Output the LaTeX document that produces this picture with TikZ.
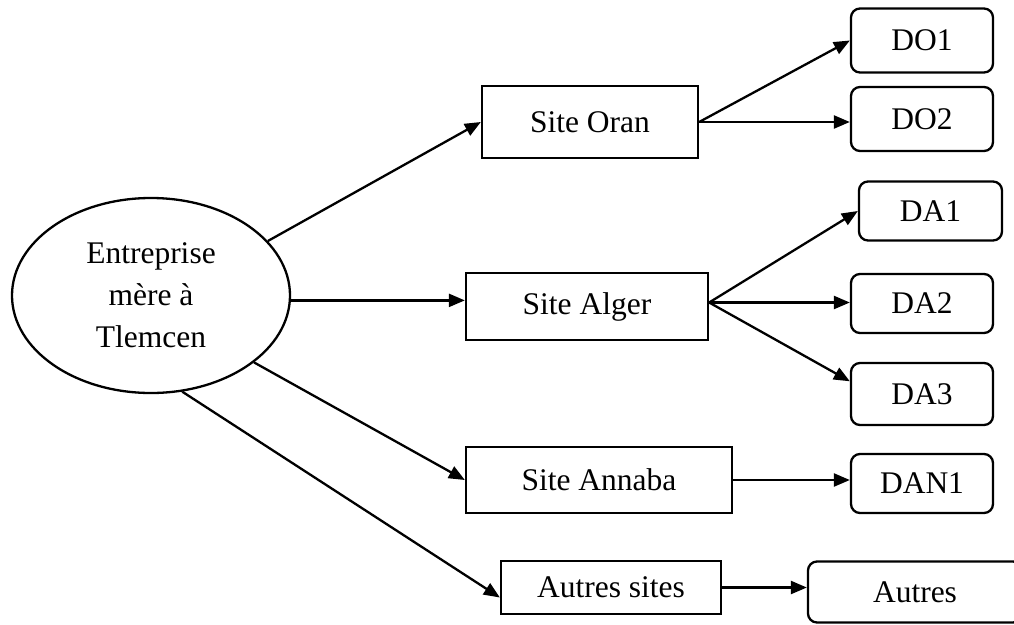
\documentclass[tikz,border=0pt]{standalone}
\usepackage{fontspec}
\setmainfont{Liberation Serif}
\usetikzlibrary{shapes.geometric,arrows.meta}
\begin{document}
\begin{tikzpicture}[x=1pt,y=-1pt,
  every node/.style={font=\fontsize{31.5}{42}\selectfont},
  box/.style={draw,line width=2.3pt,inner sep=0pt,rectangle},
  rbox/.style={box,rounded corners=9pt},
  conn/.style={line width=2.3pt,-{Triangle[length=16pt,width=13pt]}}]
\useasboundingbox (0,0) rectangle (1014,624);
\clip (0,0) rectangle (1014,624);
% root
\node[ellipse,draw,line width=2.3pt,inner sep=0pt,minimum width=278pt,minimum height=195pt,align=center] (ell) at (151,295.5) {Entreprise\\mère à\\Tlemcen};
% sites
\node[box,minimum width=216pt,minimum height=72pt] (oran) at (590,122) {Site Oran};
\node[box,minimum width=242pt,minimum height=67pt] (alger) at (587,306.5) {Site Alger};
\node[box,minimum width=266pt,minimum height=66pt] (annaba) at (599,480) {Site Annaba};
\node[box,minimum width=220pt,minimum height=53pt] (as) at (611,587.5) {Autres sites};
% leaves
\node[rbox,minimum width=142pt,minimum height=64pt] (do1) at (922,40.5) {DO1};
\node[rbox,minimum width=142pt,minimum height=64pt] (do2) at (922,119) {DO2};
\node[rbox,minimum width=143pt,minimum height=59pt] (da1) at (930.5,211) {DA1};
\node[rbox,minimum width=142pt,minimum height=59pt] (da2) at (922,303.5) {DA2};
\node[rbox,minimum width=142pt,minimum height=62pt] (da3) at (922,394) {DA3};
\node[rbox,minimum width=142pt,minimum height=59pt] (dan1) at (922,483.5) {DAN1};
\node[rbox,minimum width=214pt,minimum height=61pt] (autres) at (915,592) {Autres};
% helper coordinates
\coordinate (aj) at ([yshift=4pt]alger.east);
\coordinate (asin) at ([yshift=-10pt]as.west);
% connectors
\draw[conn] (ell.25.6) -- (oran.west);
\draw[conn] (ell.-2.7) -- (ell.-2.7 -| alger.west);
\draw[conn] (ell.-33) -- (annaba.west);
\draw[conn] (ell.-72) -- (asin);
\draw[conn] (oran.east) -- (do1.west);
\draw[conn] (oran.east) -- (oran.east -| do2.west);
\draw[conn] (aj) -- (da1.west);
\draw[conn] (aj) -- (aj -| da2.west);
\draw[conn] (aj) -- (da3.170);
\draw[conn] (annaba.east) -- (annaba.east -| dan1.west);
\draw[conn] (as.east) -- (as.east -| autres.west);
\end{tikzpicture}
\end{document}
